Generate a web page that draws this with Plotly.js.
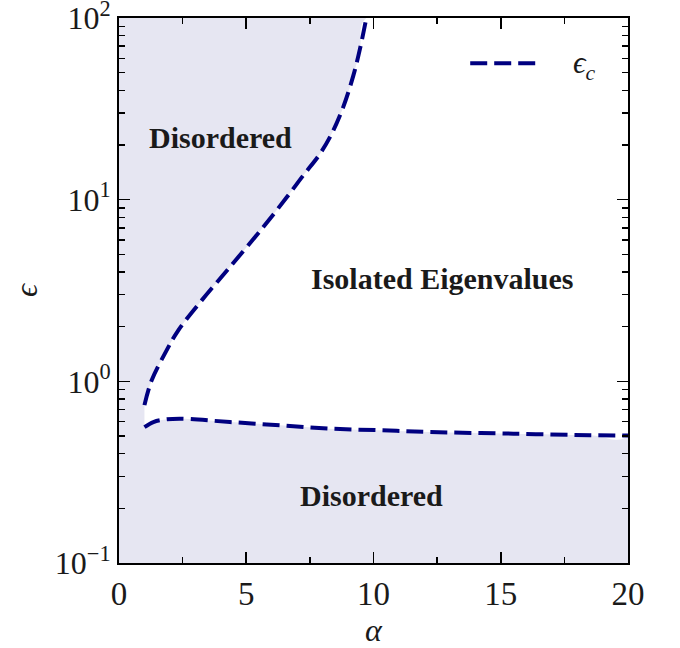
<!DOCTYPE html>
<html>
<head>
<meta charset="utf-8">
<script src="https://cdn.plot.ly/plotly-3.0.1.min.js"></script>
<style>html,body{margin:0;padding:0;background:#fff}</style>
</head>
<body>
<div id="chart" style="width:680px;height:648px"></div>
<script>
// Critical noise level eps_c(alpha): upper and lower branches of the phase boundary
const upperAlpha = [1.0, 1.28, 1.87, 2.33, 3.25, 4.36, 5.67, 6.59, 7.24, 7.90, 8.36, 8.81, 9.21, 9.47, 9.72];
const upperEps   = [0.74, 1.01, 1.48, 1.91, 2.79, 4.26, 7.07, 10.3, 13.6, 17.9, 23.1, 32.3, 48.3, 67.8, 100];
const lowerAlpha = [1.0, 1.35, 1.74, 2.4, 4.36, 6.33, 8.29, 10.26, 12.2, 15.5, 18.5, 20];
const lowerEps   = [0.56, 0.597, 0.615, 0.623, 0.597, 0.573, 0.549, 0.538, 0.526, 0.515, 0.505, 0.503];

// Axis ticks
const xTickVals = [0, 5, 10, 15, 20];
const xTickText = ['0', '5', '10', '15', '20'];
const yTickVals = [0.1, 1, 10, 100];
const yTickText = ['10<sup>−1</sup>', '10<sup>0</sup>', '10<sup>1</sup>', '10<sup>2</sup>'];

// Region labels
const regionText  = ['Disordered', 'Isolated Eigenvalues', 'Disordered'];
const regionAlpha = [3.97, 12.71, 9.94];
const regionEps   = [22.1, 3.67, 0.236];

const X_MAX = 20, Y_MAX = 100;
const FILL = '#e6e6f2';
const LINE = '#000080';
const SERIF = 'Liberation Serif, Times New Roman, serif';

// minor ticks at 2..9 within each decade
const yMinor = [];
for (let d = -1; d < 2; d++) {
  for (let k = 2; k <= 9; k++) yMinor.push(k * Math.pow(10, d));
}

// white "isolated eigenvalues" region between the two branches
const regionX = upperAlpha.concat([X_MAX], lowerAlpha.slice().reverse());
const regionY = upperEps.concat([Y_MAX], lowerEps.slice().reverse());

const dashStyle = {color: LINE, width: 4, dash: '17px,7px', shape: 'spline', smoothing: 1};

const traces = [
  {x: regionX, y: regionY, type: 'scatter', mode: 'lines', fill: 'toself',
   fillcolor: '#ffffff', line: {width: 0, color: 'rgba(0,0,0,0)', shape: 'spline', smoothing: 1},
   hoverinfo: 'skip', showlegend: false},
  {x: upperAlpha, y: upperEps, type: 'scatter', mode: 'lines',
   line: dashStyle, name: 'ϵ<sub>c</sub>', showlegend: false},
  {x: lowerAlpha, y: lowerEps, type: 'scatter', mode: 'lines',
   line: dashStyle, showlegend: false}
];

const annotations = regionText.map((t, i) => ({
  x: regionAlpha[i], y: Math.log10(regionEps[i]), xref: 'x', yref: 'y',
  text: '<b>' + t + '</b>', showarrow: false,
  font: {family: SERIF, size: 30, color: '#1a1a1a'}
}));
// legend entry label
annotations.push({
  x: 0.888, y: 0.914, xref: 'paper', yref: 'paper', xanchor: 'left', yanchor: 'middle',
  text: '<i>ϵ</i><sub><i>c</i></sub>', showarrow: false,
  font: {family: SERIF, size: 31, color: '#1a1a1a'}
});

const axisCommon = {
  showline: true, linecolor: '#000', linewidth: 2, mirror: 'allticks',
  ticks: 'inside', ticklen: 11, tickwidth: 1.6, tickcolor: '#000',
  showgrid: false, zeroline: false, ticklabeloverflow: 'allow',
  tickfont: {family: SERIF, size: 33, color: '#1a1a1a'}
};

const layout = {
  width: 680, height: 648,
  margin: {l: 119, r: 52, t: 18, b: 85},
  paper_bgcolor: '#ffffff', plot_bgcolor: FILL,
  showlegend: false,
  xaxis: Object.assign({}, axisCommon, {
    range: [0, X_MAX], tickmode: 'array', tickvals: xTickVals, ticktext: xTickText,
    minor: {dtick: 2.5, ticks: 'inside', ticklen: 6, tickwidth: 1.4, tickcolor: '#000', showgrid: false},
    title: {text: '<i>α</i>', font: {family: SERIF, size: 32, color: '#1a1a1a'}, standoff: 7}
  }),
  yaxis: Object.assign({}, axisCommon, {
    type: 'log', range: [-1, 2], tickmode: 'array', tickvals: yTickVals, ticktext: yTickText,
    tickfont: {family: SERIF, size: 32, color: '#1a1a1a'},
    minor: {tickmode: 'array', tickvals: yMinor, ticks: 'inside', ticklen: 6, tickwidth: 1.4, tickcolor: '#000', showgrid: false},
    title: {text: '<i>ϵ</i>', font: {family: SERIF, size: 32, color: '#1a1a1a'}, standoff: 8}
  }),
  shapes: [
    // legend sample line
    {type: 'line', xref: 'paper', yref: 'paper', x0: 0.69, x1: 0.83, y0: 0.917, y1: 0.917,
     line: {color: LINE, width: 4, dash: '17px,7px'}}
  ],
  annotations: annotations
};

Plotly.newPlot('chart', traces, layout, {displayModeBar: false, staticPlot: true});
</script>
</body>
</html>
